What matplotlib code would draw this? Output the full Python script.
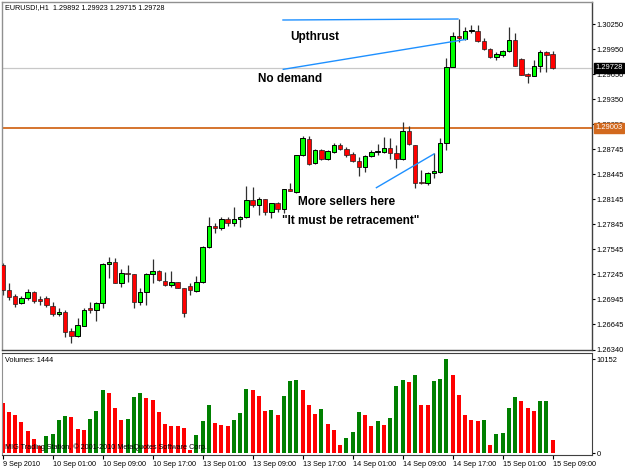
import matplotlib
matplotlib.use("Agg")
import matplotlib.pyplot as plt
import numpy as np

plt.rcParams['font.family'] = ['Liberation Sans', 'DejaVu Sans']

# ---------------- data ----------------
opens = [1.27358, 1.27058, 1.26986, 1.26902, 1.26962, 1.27034, 1.26950, 1.26962, 1.26866, 1.26770,
         1.26794, 1.26566, 1.26506, 1.26626, 1.26842, 1.26818, 1.26902, 1.27370, 1.27394, 1.27142,
         1.27262, 1.27250, 1.26914, 1.27034, 1.27250, 1.27286, 1.27166, 1.27118, 1.27154, 1.27082,
         1.27106, 1.27046, 1.27154, 1.27574, 1.27826, 1.27802, 1.27910, 1.27862, 1.27910, 1.27934,
         1.28138, 1.28078, 1.28150, 1.27994, 1.28102, 1.28030, 1.28270, 1.28234, 1.28678, 1.28870,
         1.28582, 1.28738, 1.28630, 1.28714, 1.28798, 1.28750, 1.28690, 1.28606, 1.28534, 1.28666,
         1.28714, 1.28714, 1.28762, 1.28702, 1.28630, 1.28966, 1.28798, 1.28354, 1.28342, 1.28462,
         1.28474, 1.28822, 1.29734, 1.30106, 1.30070, 1.30166, 1.30166, 1.30046, 1.29950, 1.29854,
         1.29878, 1.29926, 1.30058, 1.29830, 1.29650, 1.29626, 1.29746, 1.29914, 1.29892]
highs = [1.27382, 1.27142, 1.27010, 1.26986, 1.27070, 1.27046, 1.26986, 1.26986, 1.26914, 1.26842,
         1.26818, 1.26602, 1.26722, 1.26842, 1.26914, 1.26914, 1.27382, 1.27454, 1.27442, 1.27310,
         1.27358, 1.27250, 1.27082, 1.27262, 1.27430, 1.27298, 1.27274, 1.27286, 1.27154, 1.27082,
         1.27142, 1.27226, 1.27586, 1.27934, 1.27862, 1.27934, 1.27934, 1.28054, 1.27946, 1.28306,
         1.28294, 1.28174, 1.28150, 1.28102, 1.28114, 1.28270, 1.28342, 1.28678, 1.28906, 1.28906,
         1.28750, 1.28750, 1.28738, 1.28822, 1.28822, 1.28774, 1.28714, 1.28654, 1.28678, 1.28738,
         1.28810, 1.28894, 1.28882, 1.28798, 1.29074, 1.29026, 1.28798, 1.28498, 1.28474, 1.28702,
         1.28882, 1.29842, 1.30154, 1.30310, 1.30214, 1.30238, 1.30238, 1.30082, 1.29962, 1.29914,
         1.29938, 1.30214, 1.30142, 1.29842, 1.29662, 1.29818, 1.29938, 1.29926, 1.29923]
lows = [1.26998, 1.26938, 1.26854, 1.26890, 1.26938, 1.26902, 1.26878, 1.26854, 1.26746, 1.26746,
        1.26494, 1.26422, 1.26494, 1.26626, 1.26782, 1.26686, 1.26842, 1.27202, 1.27142, 1.27094,
        1.27154, 1.26842, 1.26878, 1.26878, 1.27142, 1.27166, 1.27106, 1.27094, 1.27082, 1.26734,
        1.26998, 1.27034, 1.27142, 1.27562, 1.27742, 1.27778, 1.27826, 1.27826, 1.27814, 1.27922,
        1.28054, 1.27958, 1.27958, 1.27922, 1.27994, 1.27982, 1.28246, 1.28222, 1.28666, 1.28558,
        1.28570, 1.28618, 1.28618, 1.28702, 1.28738, 1.28654, 1.28594, 1.28426, 1.28474, 1.28654,
        1.28678, 1.28702, 1.28630, 1.28522, 1.28618, 1.28798, 1.28282, 1.28330, 1.28318, 1.28402,
        1.28462, 1.28738, 1.29734, 1.30034, 1.30058, 1.30142, 1.30034, 1.29938, 1.29842, 1.29818,
        1.29854, 1.29914, 1.29746, 1.29638, 1.29542, 1.29626, 1.29674, 1.29674, 1.29715]
closes = [1.27058, 1.26974, 1.26890, 1.26962, 1.27034, 1.26926, 1.26926, 1.26878, 1.26770, 1.26794,
          1.26554, 1.26506, 1.26638, 1.26818, 1.26818, 1.26902, 1.27370, 1.27394, 1.27142, 1.27262,
          1.27250, 1.26914, 1.27034, 1.27250, 1.27286, 1.27178, 1.27118, 1.27154, 1.27082, 1.26782,
          1.27058, 1.27154, 1.27574, 1.27826, 1.27802, 1.27910, 1.27862, 1.27910, 1.27934, 1.28138,
          1.28078, 1.28150, 1.27994, 1.28102, 1.28030, 1.28270, 1.28246, 1.28678, 1.28882, 1.28570,
          1.28738, 1.28630, 1.28726, 1.28798, 1.28750, 1.28678, 1.28606, 1.28534, 1.28666, 1.28714,
          1.28726, 1.28762, 1.28702, 1.28630, 1.28966, 1.28810, 1.28342, 1.28342, 1.28462, 1.28486,
          1.28822, 1.29734, 1.30106, 1.30082, 1.30166, 1.30178, 1.30046, 1.29950, 1.29854, 1.29890,
          1.29926, 1.30058, 1.29746, 1.29638, 1.29626, 1.29746, 1.29914, 1.29878, 1.29728]
volumes = [5400, 4392, 4068, 3312, 2412, 1548, 720, 1800, 2052, 3600,
           4032, 3888, 2628, 2520, 3708, 4500, 6768, 6480, 4860, 3528,
           3708, 6012, 6480, 5940, 5688, 4464, 3132, 2952, 2880, 2700,
           360, 1980, 3420, 5184, 3240, 2988, 2880, 3600, 4320, 6948,
           6768, 6120, 4500, 4680, 4140, 6192, 7812, 7920, 6768, 5220,
           4248, 4752, 3168, 2520, 864, 1620, 2304, 4428, 4140, 2952,
           3492, 3060, 3816, 7200, 7920, 7704, 8460, 5220, 5148, 7812,
           8028, 10152, 8388, 6264, 4140, 3564, 3492, 3564, 864, 2088,
           2196, 4896, 6084, 5652, 4824, 4536, 5580, 5652, 1444]

price_ticks = [1.30250, 1.29950, 1.29650, 1.29350, 1.29050, 1.28745, 1.28445, 1.28145,
               1.27845, 1.27545, 1.27245, 1.26945, 1.26645, 1.26340]
price_tick_labels = ["1.30250", "1.29950", "1.29650", "1.29350", "1.29050", "1.28745", "1.28445",
                     "1.28145", "1.27845", "1.27545", "1.27245", "1.26945", "1.26645", "1.26340"]
time_tick_bars = [0, 8, 16, 24, 32, 40, 48, 56, 64, 72, 80, 88]
time_tick_labels = ["9 Sep 2010", "10 Sep 01:00", "10 Sep 09:00", "10 Sep 17:00", "13 Sep 01:00",
                    "13 Sep 09:00", "13 Sep 17:00", "14 Sep 01:00", "14 Sep 09:00", "14 Sep 17:00",
                    "15 Sep 01:00", "15 Sep 09:00"]
current_price = 1.29728
level_price = 1.29003
volume_max = 10152

# trend lines (bar index, price)
upthrust_line = ([44.85, 72.85], [1.30298, 1.30310])
nodemand_line = ([44.9, 74.2], [1.29706, 1.30066])
sellers_line = ([59.8, 69.0], [1.28286, 1.28690])

# ---------------- figure ----------------
W, H = 625, 469
fig = plt.figure(figsize=(W / 100, H / 100), dpi=100)
fig.patch.set_facecolor('white')

ax = fig.add_axes([2 / W, 1 - 350 / H, 590 / W, 348 / H])
axv = fig.add_axes([2 / W, 1 - 455 / H, 590 / W, 102 / H])

n = len(opens)
x = np.arange(n)
o = np.array(opens); c = np.array(closes); hi = np.array(highs); lo = np.array(lows)
up = c >= o

bull_col = '#00FF00'
bear_col = '#FF0000'

ax.vlines(x, lo, hi, color='#303030', linewidth=0.9, zorder=2)
body_bottom = np.minimum(o, c)
body_h = np.maximum(np.abs(c - o), 0.00004)
ax.bar(x[up], body_h[up], bottom=body_bottom[up], width=0.72, color=bull_col,
       edgecolor='black', linewidth=0.7, zorder=3)
ax.bar(x[~up], body_h[~up], bottom=body_bottom[~up], width=0.72, color=bear_col,
       edgecolor='#202020', linewidth=0.5, zorder=3)

ax.axhline(current_price, color='#C8C8C8', linewidth=0.9, zorder=1)
ax.axhline(level_price, color='#D2691E', linewidth=1.3, zorder=1)

ax.set_xlim(-0.11, 94.3)
ax.set_ylim(1.26338, 1.30514)

blue = '#1E90FF'
ax.plot(*upthrust_line, color=blue, linewidth=1.0, zorder=4)
ax.plot(*nodemand_line, color=blue, linewidth=1.0, zorder=4)
ax.plot(*sellers_line, color=blue, linewidth=1.0, zorder=4)

tf = dict(fontsize=8.5, fontweight='bold', color='black', va='center', ha='left', zorder=5)
ax.text(45.97, 1.30094, "Upthrust", **tf)
ax.text(40.85, 1.29590, "No demand", **tf)
ax.text(47.25, 1.28120, "More sellers here", **tf)
ax.text(44.7, 1.27892, "\"It must be retracement\"", **tf)

ax.text(0.005, 0.993, "EURUSD!,H1  1.29892 1.29923 1.29715 1.29728", transform=ax.transAxes,
        fontsize=5.2, va='top', ha='left', color='black')

ax.yaxis.tick_right()
ax.set_yticks(price_ticks)
ax.set_yticklabels(price_tick_labels)
ax.tick_params(axis='y', direction='out', length=2.5, width=0.8, pad=1.0, labelsize=5.4, colors='black')
ax.set_xticks([])

for sp in ['left', 'top']:
    ax.spines[sp].set_color('#909090')
for sp in ['right', 'bottom']:
    ax.spines[sp].set_color('#404040')
for sp in ax.spines.values():
    sp.set_linewidth(1.0)

# price labels on axis
ax.annotate("1.29728", xy=(1.0, current_price), xycoords=('axes fraction', 'data'),
            xytext=(2.2, 0), textcoords='offset points', fontsize=5.4, color='white',
            va='center', ha='left', annotation_clip=False,
            bbox=dict(boxstyle='square,pad=0.2', facecolor='black', edgecolor='black'))
ax.annotate("1.29003", xy=(1.0, level_price), xycoords=('axes fraction', 'data'),
            xytext=(2.2, 0), textcoords='offset points', fontsize=5.4, color='white',
            va='center', ha='left', annotation_clip=False,
            bbox=dict(boxstyle='square,pad=0.2', facecolor='#D2691E', edgecolor='#D2691E'))

# ---------------- volume panel ----------------
vol = np.array(volumes)
prev = np.concatenate([[vol[0] + 1], vol[:-1]])
vcolors = np.where(vol > prev, '#008000', '#FF0000')
axv.bar(x, vol, width=0.62, color=vcolors, linewidth=0, zorder=2)
axv.set_xlim(-0.11, 94.3)
axv.set_ylim(-200, 10800)
axv.yaxis.tick_right()
axv.set_yticks([0, volume_max])
axv.set_yticklabels(["0", str(volume_max)])
axv.tick_params(axis='y', direction='out', length=2.5, width=0.8, pad=1.0, labelsize=5.4)
axv.set_xticks(time_tick_bars)
axv.set_xticklabels(time_tick_labels, ha='left')
axv.tick_params(axis='x', direction='out', length=3, width=0.8, pad=1.5, labelsize=5.2)
for sp in ['left']:
    axv.spines[sp].set_color('#909090')
for sp in ['right', 'bottom', 'top']:
    axv.spines[sp].set_color('#404040')

axv.text(0.005, 0.96, "Volumes: 1444", transform=axv.transAxes, fontsize=5.2, va='top', ha='left')
axv.text(0.005, 0.035, "MIG Trading Station, © 2001-2010 MetaQuotes Software Corp.",
         transform=axv.transAxes, fontsize=5.2, va='bottom', ha='left', color='black', zorder=5)

fig.savefig("out.png", dpi=100, facecolor='white')
